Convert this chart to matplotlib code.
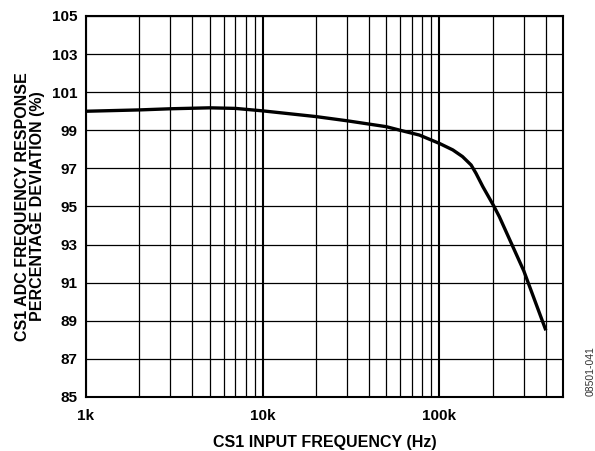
import matplotlib
matplotlib.use('Agg')
import matplotlib.pyplot as plt
from matplotlib.ticker import FixedLocator, NullFormatter
import numpy as np

plt.rcParams['font.family'] = ['Liberation Sans', 'DejaVu Sans']
plt.rcParams['font.weight'] = 'bold'

# curve
freq = [1e3, 2e3, 3e3, 5e3, 7e3, 10e3, 20e3, 30e3, 50e3, 60e3, 77e3, 100e3,
        119e3, 135e3, 151e3, 161e3, 176e3, 202e3, 218e3, 300e3, 400e3]
dev = [100.0, 100.07, 100.13, 100.18, 100.15, 100.02, 99.72, 99.5, 99.19, 99.0,
       98.75, 98.31, 97.97, 97.62, 97.18, 96.74, 96.04, 95.06, 94.47, 91.62, 88.5]

y_ticks = list(range(85, 106, 2))
x_ticks = [1e3, 1e4, 1e5]
x_labels = ['1k', '10k', '100k']

fig = plt.figure(figsize=(5.95, 4.51), dpi=100)
ax = fig.add_axes([86/595, 1 - 397/451, (563-86)/595, (397-16)/451])

ax.plot(freq, dev, color='black', lw=2.4, solid_capstyle='butt',
        solid_joinstyle='round', zorder=3)

ax.set_xscale('log')
ax.set_xlim(1e3, 5e5)
ax.set_ylim(85, 105)

minor = [m * 10**e for e in (3, 4, 5) for m in range(2, 10) if m * 10**e < 5e5]
ax.xaxis.set_minor_locator(FixedLocator(minor))
ax.xaxis.set_minor_formatter(NullFormatter())
ax.set_xticks(x_ticks)
ax.set_xticklabels(x_labels)
ax.set_yticks(y_ticks)

ax.grid(True, which='major', axis='x', color='black', lw=1.5)
ax.grid(True, which='minor', axis='x', color='black', lw=0.9)
ax.grid(True, which='major', axis='y', color='black', lw=0.9)

ax.tick_params(which='both', length=0, labelsize=11)
ax.tick_params(axis='y', pad=6)
ax.tick_params(axis='x', pad=9)
for lab in ax.get_xticklabels() + ax.get_yticklabels():
    lab.set_fontweight('bold')
for s in ax.spines.values():
    s.set_linewidth(1.5)

ax.set_xlabel('CS1 INPUT FREQUENCY (Hz)', fontsize=11.5, fontweight='bold', labelpad=8)
ax.set_ylabel('CS1 ADC FREQUENCY RESPONSE\nPERCENTAGE DEVIATION (%)', fontsize=11.5,
              fontweight='bold', labelpad=5, linespacing=1.0)

fig.text(591/595, 1 - 371/451, '08501-041', rotation=90, fontsize=7.5, fontweight='normal',
         color='#333333', ha='center', va='center')

fig.savefig('out.png', dpi=100)
